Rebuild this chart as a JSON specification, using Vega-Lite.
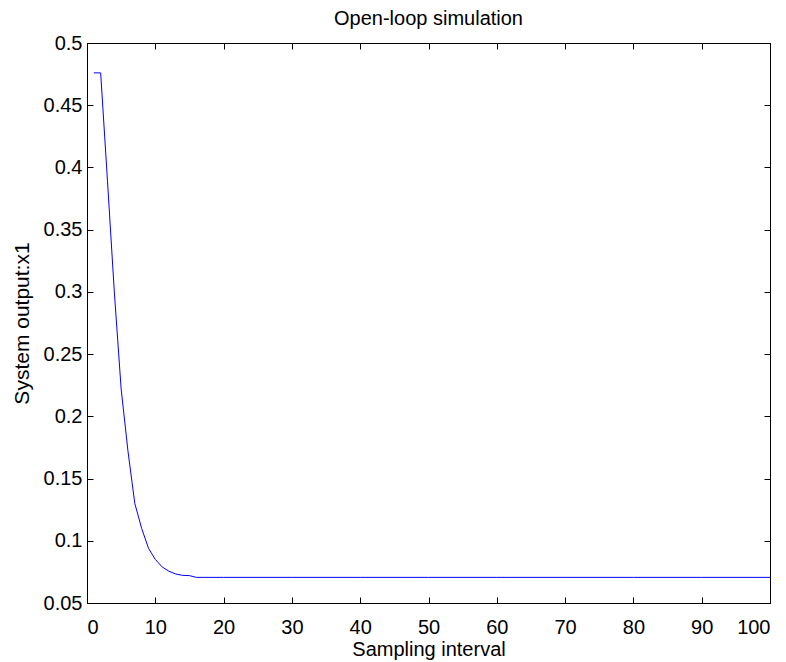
{
  "$schema": "https://vega.github.io/schema/vega-lite/v6.json",
  "autosize": "none",
  "width": 683,
  "height": 560,
  "padding": {"left": 87, "top": 43, "right": 16, "bottom": 59},
  "background": "white",
  "title": {"text": "Open-loop simulation", "font": "Liberation Sans", "fontSize": 20, "fontWeight": "normal", "color": "black", "offset": 4, "anchor": "middle"},
  "config": {
    "view": {"stroke": "black", "strokeWidth": 1},
    "axis": {
      "labelFont": "Liberation Sans", "labelFontSize": 20, "labelColor": "black",
      "titleFont": "Liberation Sans", "titleFontSize": 20, "titleColor": "black", "titleFontWeight": "normal",
      "domainColor": "black", "tickColor": "black", "tickSize": -6, "grid": false
    }
  },
  "data": {"values": [
    {"x": 1, "y": 0.476}, {"x": 2, "y": 0.476}, {"x": 3, "y": 0.389}, {"x": 4, "y": 0.300},
    {"x": 5, "y": 0.222}, {"x": 6, "y": 0.172}, {"x": 7, "y": 0.130}, {"x": 8, "y": 0.110},
    {"x": 9, "y": 0.094}, {"x": 10, "y": 0.085}, {"x": 11, "y": 0.079}, {"x": 12, "y": 0.0755},
    {"x": 13, "y": 0.0733}, {"x": 14, "y": 0.0722}, {"x": 15, "y": 0.0720}, {"x": 16, "y": 0.0706},
    {"x": 17, "y": 0.0706}, {"x": 20, "y": 0.0706}, {"x": 30, "y": 0.0706}, {"x": 40, "y": 0.0706},
    {"x": 50, "y": 0.0706}, {"x": 60, "y": 0.0706}, {"x": 70, "y": 0.0706}, {"x": 80, "y": 0.0706},
    {"x": 90, "y": 0.0706}, {"x": 100, "y": 0.0706}
  ]},
  "layer": [
    {
      "mark": {"type": "line", "color": "#0000ff", "strokeWidth": 1},
      "encoding": {
        "x": {"field": "x", "type": "quantitative", "scale": {"domain": [0, 100], "nice": false},
              "axis": {"values": [0,10,20,30,40,50,60,70,80,90,100], "title": "Sampling interval", "labelPadding": 20, "titlePadding": 2}},
        "y": {"field": "y", "type": "quantitative", "scale": {"domain": [0.05, 0.5], "nice": false, "zero": false},
              "axis": {"values": [0.05,0.1,0.15,0.2,0.25,0.3,0.35,0.4,0.45,0.5], "format": "~g", "title": "System output:x1", "titleFontSize": 21, "labelPadding": 11, "titlePadding": 11}}
      }
    },
    {
      "mark": {"type": "line", "opacity": 0},
      "encoding": {
        "x": {"field": "x", "type": "quantitative", "axis": {"orient": "top", "values": [0,10,20,30,40,50,60,70,80,90,100], "labels": false, "title": null}},
        "y": {"field": "y", "type": "quantitative", "axis": {"orient": "right", "values": [0.05,0.1,0.15,0.2,0.25,0.3,0.35,0.4,0.45,0.5], "labels": false, "title": null}}
      }
    }
  ],
  "resolve": {"axis": {"x": "independent", "y": "independent"}}
}
